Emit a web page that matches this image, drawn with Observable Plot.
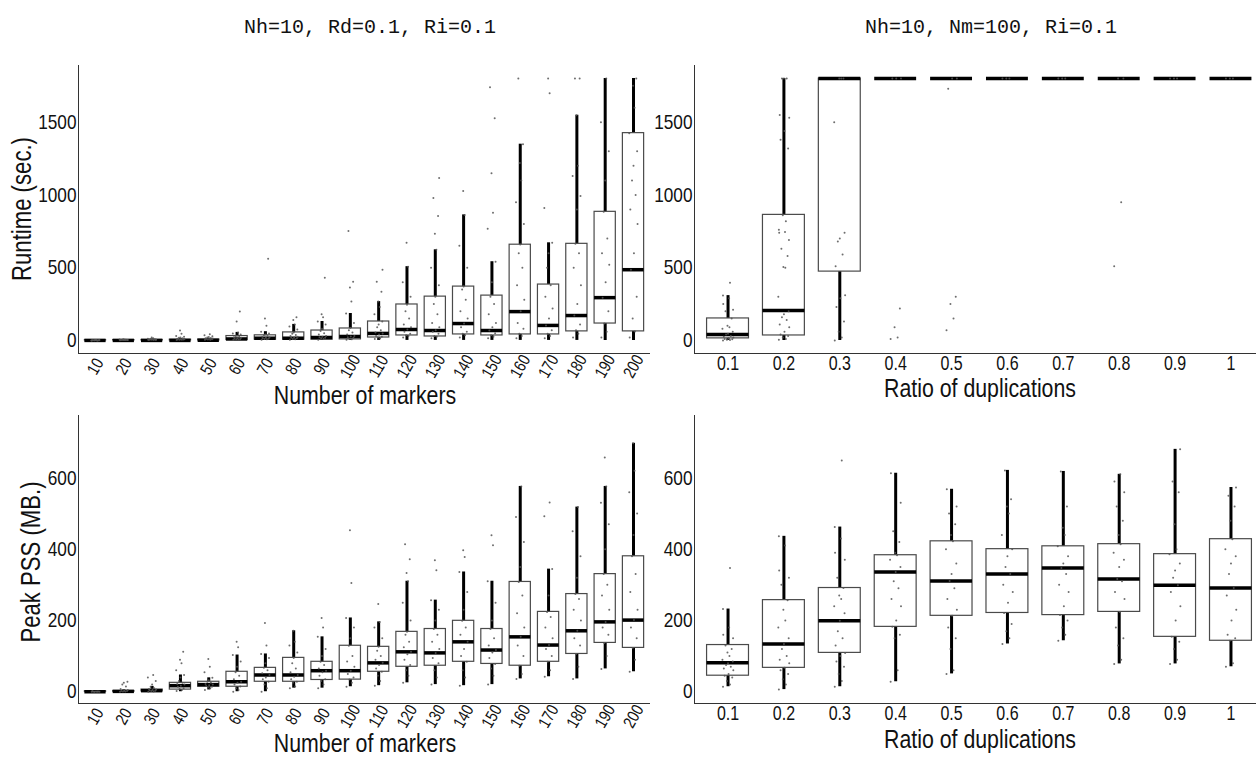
<!DOCTYPE html>
<html><head><meta charset="utf-8">
<script src="https://cdn.jsdelivr.net/npm/d3@7"></script>
<script src="https://cdn.jsdelivr.net/npm/@observablehq/plot@0.6"></script>
<style>
html,body{margin:0;padding:0;background:#fff;}
#wrap{position:relative;width:1256px;height:757px;overflow:hidden;background:#fff;}
#wrap > svg{position:absolute;}
</style></head><body><div id="wrap"></div>
<script>
// ---------- categories ----------
const markerCats = [10,20,30,40,50,60,70,80,90,100,110,120,130,140,150,160,170,180,190,200];
const ratioCats = ["0.1","0.2","0.3","0.4","0.5","0.6","0.7","0.8","0.9","1"];
const runtimeTicks = [0,500,1000,1500];
const pssTicks = [0,200,400,600];

// ---------- Runtime vs number of markers ----------
const rtM_q1  = [0,0,0,0,0, 3,5,5,5,7, 20,34,27,41,34, 41,41,62,116,62];
const rtM_med = [0,0,0,0,1, 10,15,15,20,27, 48,75,68,116,68, 198,103,171,294,486];
const rtM_q3  = [1,2,3,5,6, 30,35,55,68,82, 130,247,301,370,308, 658,384,664,884,1425];
const rtM_lo  = [0,0,0,0,0, 0,0,0,0,0, 0,0,0,0,0, 0,0,0,0,0];
const rtM_hi  = [2,4,8,12,14, 55,60,110,130,185, 267,507,623,863,541, 1349,671,1548,1800,1800];
const rtM_pts = [
  [0,0,1,1,1,2,2,1,0,1,2,1,0,3,1],
  [1,2,2,3,3,4,2,3,5,4,3,2,6,4,8],
  [2,3,4,4,5,6,5,7,8,9,10,6,12,15,20],
  [3,4,5,6,7,8,10,12,14,18,20,25,30,45,68],
  [4,5,6,8,9,11,13,15,17,20,24,28,35,42],
  [3,6,8,10,12,15,18,22,25,28,32,40,48,55,130,198],
  [5,8,10,12,15,18,20,25,30,35,40,48,60,100,150,561],
  [5,8,10,14,18,20,25,30,38,45,55,75,95,110,140,160],
  [5,10,14,18,22,25,30,40,50,65,80,110,130,160,180,431],
  [5,8,12,18,22,27,30,40,55,70,85,120,185,267,363,404,753],
  [10,15,20,25,30,40,48,55,70,90,110,130,180,230,267,335,404,486],
  [20,30,35,45,60,75,90,110,150,200,245,300,400,507,671],
  [15,25,30,45,60,70,90,120,180,250,300,380,500,623,733,856,979,1116],
  [20,35,45,60,90,116,150,200,280,350,370,500,650,863,1027],
  [15,25,35,50,68,90,120,180,250,300,400,541,767,877,1150,1527,1740],
  [15,30,45,80,120,200,280,380,500,600,660,800,950,1100,1219,1349,1800],
  [15,30,45,70,103,150,220,300,380,500,600,671,911,1699,1800],
  [20,45,70,110,171,250,380,500,600,664,900,993,1130,1200,1548,1800,1800],
  [20,60,116,200,294,400,520,600,700,884,1100,1300,1500,1800],
  [20,62,150,300,486,600,800,900,1000,1100,1200,1300,1425,1600,1750,1800]
];

// ---------- Runtime vs ratio of duplications ----------
const rtR_q1  = [14,34,473,1800,1800,1800,1800,1800,1800,1800];
const rtR_med = [41,205,1800,1800,1800,1800,1800,1800,1800,1800];
const rtR_q3  = [151,863,1800,1800,1800,1800,1800,1800,1800,1800];
const rtR_lo  = [0,0,0,1800,1800,1800,1800,1800,1800,1800];
const rtR_hi  = [308,1800,1800,1800,1800,1800,1800,1800,1800,1800];
const rtR_pts = [
  [0,2,5,8,10,15,20,25,30,40,45,60,80,90,100,150,200,210,250,290,308,397],
  [5,10,20,30,40,60,90,110,140,160,180,200,300,500,505,580,630,690,740,745,760,820,860,1320,1380,1440,1530,1550,1800,1800,1800],
  [0,20,60,130,230,290,310,510,590,680,700,740,1500,1800,1800,1800],
  [10,20,90,220,1800,1800,1800],
  [70,150,250,300,1730,1800,1800],
  [1800,1800,1800],
  [1800,1800,1800],
  [510,950,1800,1800],
  [1800,1800,1800],
  [1800,1800,1800]
];

// ---------- Peak PSS vs number of markers ----------
const psM_q1  = [0,0,1,6,14, 14,28,28,33,34, 56,70,73,84,78, 73,84,106,137,123];
const psM_med = [0,1,3,17,20, 28,47,47,59,59, 81,112,109,140,117, 154,131,171,196,201];
const psM_q3  = [1,2,6,25,28, 56,67,95,84,129, 126,168,176,199,176, 308,224,274,330,380];
const psM_lo  = [0,0,0,0,5, 0,0,10,10,14, 17,25,20,17,20, 36,42,36,64,56];
const psM_hi  = [2,5,15,47,39, 103,106,171,154,207, 196,310,257,336,310, 576,344,518,576,697];
const psM_pts = [
  [0,0,0,1,1,1,0,2,1,0],
  [0,1,1,2,2,3,5,8,15,20,25,28],
  [0,1,2,3,4,5,6,8,10,14,20,30,40,47],
  [2,5,8,10,14,17,20,22,25,30,40,47,60,80,90,112],
  [5,10,12,14,16,18,20,22,25,28,32,39,55,70,92],
  [0,5,10,15,20,25,28,35,45,55,70,85,103,125,140],
  [0,10,20,28,35,40,47,52,60,67,80,95,106,130,193],
  [10,15,25,28,35,42,47,55,65,80,95,110,130,140,171],
  [10,20,30,35,45,55,59,65,75,84,100,120,154,180,207],
  [14,25,34,40,50,59,70,85,100,129,150,180,207,305,453],
  [17,30,45,56,65,75,81,90,100,115,126,150,180,196,246],
  [25,45,60,75,90,105,112,125,140,160,168,200,250,310,333,372,414],
  [20,40,60,80,95,109,120,140,160,176,200,230,257,341,369],
  [17,40,60,84,100,120,140,160,180,199,230,280,336,378,397],
  [20,45,65,78,95,110,117,130,150,176,200,250,310,411,439],
  [36,50,73,100,130,154,180,220,270,308,350,420,490,576],
  [42,60,84,100,120,131,150,180,210,224,270,344,492,531],
  [36,70,106,130,150,171,200,230,260,274,320,380,450,518],
  [64,100,137,160,180,196,230,270,300,330,400,470,530,576,657],
  [56,90,123,150,180,201,230,280,330,380,440,500,560,620,697]
];

// ---------- Peak PSS vs ratio of duplications ----------
const psR_q1  = [45,67,109,182,213,221,215,224,154,143];
const psR_med = [81,134,199,336,311,330,347,316,299,291];
const psR_q3  = [131,257,291,383,422,400,408,414,386,428];
const psR_lo  = [14,6,14,28,50,134,143,78,78,70];
const psR_hi  = [232,436,462,613,568,621,618,610,680,573];
const psR_pts = [
  [14,20,30,40,45,50,60,65,70,75,80,85,90,100,110,120,130,150,160,180,232,347],
  [6,20,35,50,60,67,80,90,100,120,134,150,180,200,230,257,300,320,340,410,436],
  [14,30,50,70,85,100,109,130,150,170,199,220,240,260,270,291,320,370,390,430,462,649],
  [28,60,150,160,182,200,240,260,290,310,336,350,370,383,390,420,450,530,613],
  [50,60,120,150,180,213,230,260,290,311,330,360,400,422,440,470,500,520,568],
  [134,150,170,190,221,250,280,300,330,350,380,400,440,500,520,540,621],
  [143,160,180,200,215,240,280,300,330,347,360,380,408,440,460,520,618],
  [78,90,130,150,180,224,260,280,310,316,350,370,390,414,440,480,520,560,590,610],
  [78,90,120,140,154,200,240,280,299,320,340,360,386,400,470,560,590,680],
  [70,80,143,150,160,200,230,270,291,330,360,380,400,428,480,520,550,573]
];

// ---------- text ----------
const titleLeft = "Nh=10, Rd=0.1, Ri=0.1";
const titleRight = "Nh=10, Nm=100, Ri=0.1";
const xLabelMarkers = "Number of markers";
const xLabelRatio = "Ratio of duplications";
const yLabelRuntime = "Runtime (sec.)";
const yLabelPss = "Peak PSS (MB.)";

// ---------- font choice (condensed sans) ----------
function fontAvailable(name) {
  const c = document.createElement("canvas").getContext("2d");
  const s = "Number of markers 0123456789";
  c.font = "40px monospace"; const a = c.measureText(s).width;
  c.font = `40px "${name}", monospace`; const b = c.measureText(s).width;
  return Math.abs(a - b) > 0.5;
}
const hasNarrow = fontAvailable("Liberation Sans Narrow");
const SANS = hasNarrow ? '"Liberation Sans Narrow", sans-serif' : '"Liberation Sans", Arial, sans-serif';
const SQUEEZE = hasNarrow ? 1 : 0.82;
const MONO = '"Liberation Mono", "DejaVu Sans Mono", monospace';

// deterministic horizontal spread pattern for the jittered points (position only)
const SPREAD = [-0.9,0.35,-0.2,0.75,-0.6,0.1,0.95,-0.75,0.5,-0.35,0.0,0.85,-1.0,0.25,-0.1,0.65,-0.45,0.9,-0.85,0.2];

const wrap = document.getElementById("wrap");

function panel(o) {
  const n = o.cats.length;
  const stats = o.cats.map((c, i) => ({i, q1: o.q1[i], med: o.med[i], q3: o.q3[i], lo: o.lo[i], hi: o.hi[i]}));
  const dots = o.pts.flatMap((arr, i) => arr.map((v, j) => ({x: i + o.jw * SPREAD[j % SPREAD.length], y: v})));
  const labels = o.cats.map((c, i) => ({i, t: String(c)}));
  const hw = 0.375;
  const svg = Plot.plot({
    width: o.width, height: o.height,
    marginLeft: o.mL, marginRight: o.mR, marginTop: o.mT, marginBottom: o.mB,
    style: {fontFamily: SANS, background: "transparent", overflow: "visible", color: "#111"},
    x: {domain: [-0.6, n - 0.4], axis: null},
    y: {domain: o.yDomain, axis: null},
    marks: [
      Plot.ruleX(stats, {x: "i", y1: "lo", y2: "hi", stroke: "#000", strokeWidth: 3}),
      Plot.rect(stats, {x1: d => d.i - hw, x2: d => d.i + hw, y1: "q1", y2: "q3", fill: "#fff", stroke: "#4a4a4a", strokeWidth: 1.2}),
      Plot.ruleY(stats, {x1: d => d.i - hw, x2: d => d.i + hw, y: "med", stroke: "#000", strokeWidth: 3.5}),
      Plot.dot(dots, {x: "x", y: "y", r: 1, fill: "#555", fillOpacity: 0.85}),
      Plot.ruleX([-0.6], {stroke: "#333", strokeWidth: 1}),
      Plot.ruleY([o.yDomain[0]], {stroke: "#333", strokeWidth: 1}),
      Plot.axisY({ticks: o.yTicks, tickFormat: d => String(d), tickSize: 0, tickPadding: 2, fontSize: 21, label: null}),
      o.rotate
        ? Plot.text(labels, {x: "i", text: "t", frameAnchor: "bottom", rotate: -60, textAnchor: "middle", lineAnchor: "middle", dy: 13, fontSize: 17, fill: "#111"})
        : Plot.text(labels, {x: "i", text: "t", frameAnchor: "bottom", textAnchor: "middle", lineAnchor: "top", dy: 3, fontSize: 19.5, fill: "#111"})
    ]
  });
  svg.classList.add("panel");
  svg.style.left = o.left + "px";
  svg.style.top = o.top + "px";
  wrap.appendChild(svg);
}

const rtDomain = [-90, 1890];
const psDomain = [-33, 775];

panel({cats: markerCats, q1: rtM_q1, med: rtM_med, q3: rtM_q3, lo: rtM_lo, hi: rtM_hi, pts: rtM_pts,
  yDomain: rtDomain, yTicks: runtimeTicks, left: 0, top: 0, width: 660, height: 420,
  mL: 78, mR: 10, mT: 65, mB: 67, jw: 0.15, rotate: true});
panel({cats: ratioCats, q1: rtR_q1, med: rtR_med, q3: rtR_q3, lo: rtR_lo, hi: rtR_hi, pts: rtR_pts,
  yDomain: rtDomain, yTicks: runtimeTicks, left: 660, top: 0, width: 620, height: 420,
  mL: 34, mR: 16, mT: 65, mB: 67, jw: 0.1, rotate: false});
panel({cats: markerCats, q1: psM_q1, med: psM_med, q3: psM_q3, lo: psM_lo, hi: psM_hi, pts: psM_pts,
  yDomain: psDomain, yTicks: pssTicks, left: 0, top: 380, width: 660, height: 377,
  mL: 78, mR: 10, mT: 35, mB: 54, jw: 0.15, rotate: true});
panel({cats: ratioCats, q1: psR_q1, med: psR_med, q3: psR_q3, lo: psR_lo, hi: psR_hi, pts: psR_pts,
  yDomain: psDomain, yTicks: pssTicks, left: 660, top: 380, width: 620, height: 377,
  mL: 34, mR: 16, mT: 35, mB: 54, jw: 0.1, rotate: false});

// ---------- titles and axis titles ----------
const ov = d3.select(wrap).append("svg")
  .attr("width", 1256).attr("height", 757)
  .style("left", "0px").style("top", "0px").style("pointer-events", "none");
const mono = [[titleLeft, 370, 33], [titleRight, 991, 33]];
ov.selectAll("text.title").data(mono).join("text").attr("class", "title")
  .attr("x", d => d[1]).attr("y", d => d[2]).attr("text-anchor", "middle")
  .attr("font-family", MONO).attr("font-size", 20).attr("fill", "#111").text(d => d[0]);
const xt = [[xLabelMarkers, 365, 404], [xLabelRatio, 980, 397], [xLabelMarkers, 365, 752], [xLabelRatio, 980, 748]];
ov.selectAll("text.xt").data(xt).join("text").attr("class", "xt cond")
  .attr("x", d => d[1]).attr("y", d => d[2]).attr("text-anchor", "middle")
  .attr("font-family", SANS).attr("font-size", 26).attr("fill", "#111").text(d => d[0]);
const yt = [[yLabelRuntime, 31, 209], [yLabelPss, 40, 562]];
ov.selectAll("text.yt").data(yt).join("text").attr("class", "yt cond")
  .attr("transform", d => `translate(${d[1]},${d[2]}) rotate(-90)`).attr("text-anchor", "middle")
  .attr("font-family", SANS).attr("font-size", 27).attr("fill", "#111").text(d => d[0]);

// condense sans-serif texts when no narrow face is installed
if (SQUEEZE !== 1) {
  const texts = [...wrap.querySelectorAll("svg.panel text"), ...wrap.querySelectorAll("text.cond")];
  for (const t of texts) {
    if (!t.textContent) continue;
    const L = t.getComputedTextLength();
    if (L > 0) { t.setAttribute("textLength", (L * SQUEEZE).toFixed(2)); t.setAttribute("lengthAdjust", "spacingAndGlyphs"); }
  }
}
</script></body></html>
